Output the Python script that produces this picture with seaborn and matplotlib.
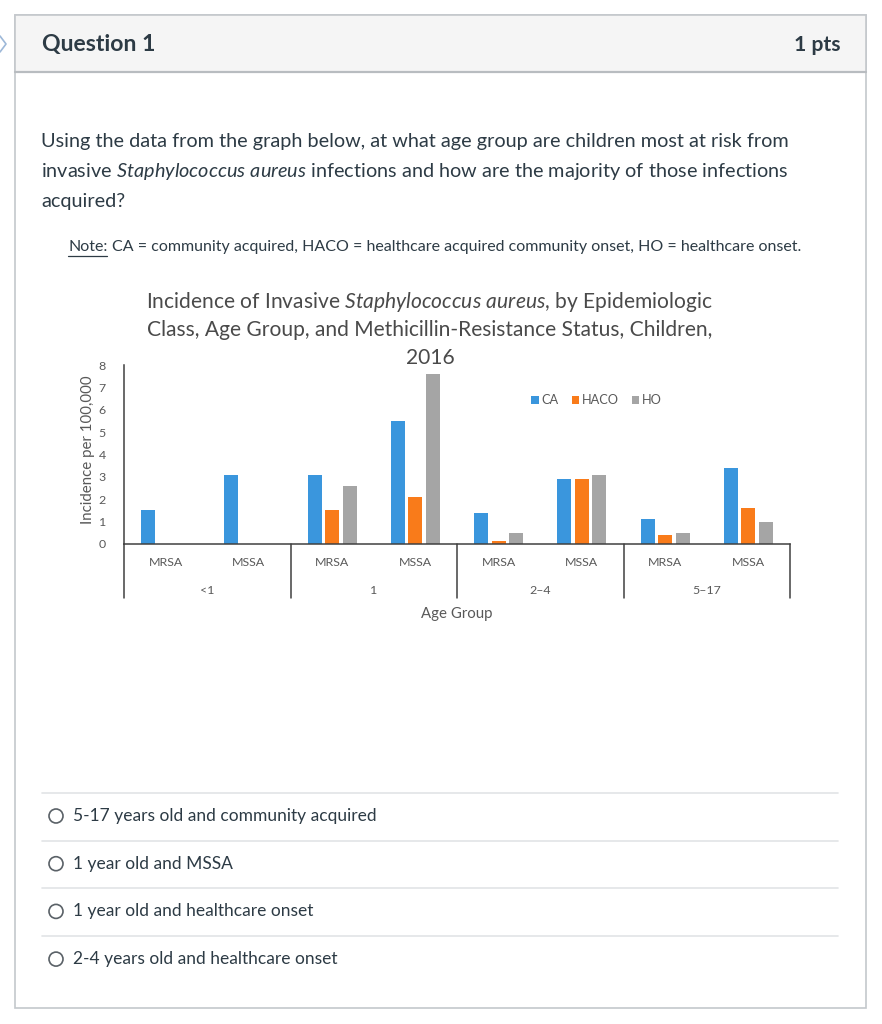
import matplotlib
matplotlib.use("Agg")
import numpy as np
import pandas as pd
import seaborn as sns
import matplotlib.pyplot as plt
import matplotlib.transforms as mtransforms
from matplotlib.patches import Rectangle, Ellipse
from matplotlib.lines import Line2D

# ---------------- data ----------------
age_groups = ["<1", "1", "2–4", "5–17"]
resistance = ["MRSA", "MSSA"]
classes = ["CA", "HACO", "HO"]
# order: <1 MRSA, <1 MSSA, 1 MRSA, 1 MSSA, 2-4 MRSA, 2-4 MSSA, 5-17 MRSA, 5-17 MSSA
ca_values = [1.5, 3.1, 3.1, 5.5, 1.4, 2.9, 1.1, 3.4]
haco_values = [0.0, 0.0, 1.5, 2.1, 0.15, 2.9, 0.4, 1.6]
ho_values = [0.0, 0.0, 2.6, 7.6, 0.5, 3.1, 0.5, 1.0]
y_ticks = [0, 1, 2, 3, 4, 5, 6, 7, 8]
class_colors = ["#3A96DD", "#F97B1A", "#A5A5A5"]

question_lines = [
    "Using the data from the graph below, at what age group are children most at risk from",
    r"invasive $\it{Staphylococcus\ aureus}$ infections and how are the majority of those infections",
    "acquired?",
]
note_label = "Note:"
note_text = "CA = community acquired, HACO = healthcare acquired community onset, HO = healthcare onset."
title_lines = [
    r"Incidence of Invasive $\it{Staphylococcus\ aureus}$, by Epidemiologic",
    "Class, Age Group, and Methicillin-Resistance Status, Children,",
    "2016",
]
answers = [
    "5-17 years old and community acquired",
    "1 year old and MSSA",
    "1 year old and healthcare onset",
    "2-4 years old and healthcare onset",
]

# ---------------- style ----------------
sns.set_theme(style="white")
plt.rcParams["font.family"] = ["Lato", "DejaVu Sans"]
plt.rcParams["mathtext.fontset"] = "custom"
plt.rcParams["mathtext.rm"] = "Lato"
plt.rcParams["mathtext.it"] = "Lato:italic"
plt.rcParams["mathtext.bf"] = "Lato:bold"

W, H = 882, 1024
fig = plt.figure(figsize=(W / 100, H / 100), dpi=100)
fig.patch.set_facecolor("white")


def fx(x):
    return x / W


def fy(y):
    return 1 - y / H


# ---------------- page card ----------------
fig.patches.append(Rectangle((fx(15), fy(1008)), (866 - 15) / W, (1008 - 15) / H,
                             transform=fig.transFigure, facecolor="white",
                             edgecolor="#C4C8CC", linewidth=1.2, zorder=-2))
fig.patches.append(Rectangle((fx(15), fy(72)), (866 - 15) / W, (72 - 15) / H,
                             transform=fig.transFigure, facecolor="#F5F5F5",
                             edgecolor="#C4C8CC", linewidth=1.2, zorder=-1.5))
fig.lines.append(Line2D([fx(15), fx(866)], [fy(72), fy(72)], transform=fig.transFigure,
                        color="#B8BCC0", linewidth=1.6, zorder=-1))
# small chevron at left edge
fig.lines.append(Line2D([fx(0), fx(6), fx(0)], [fy(36), fy(44), fy(52)],
                        transform=fig.transFigure, color="#9DB8D8", linewidth=1.2))

fig.text(fx(42), fy(45), "Question 1", fontsize=16.6, fontweight="bold",
         color="#2D3B45", ha="left", va="center")
fig.text(fx(840), fy(45), "1 pts", fontsize=15.2, fontweight="bold",
         color="#2D3B45", ha="right", va="center")

for i, line in enumerate(question_lines):
    fig.text(fx(41), fy(141 + 30 * i), line, fontsize=14.3, color="#2D3B45",
             ha="left", va="center")

renderer = fig.canvas.get_renderer()
note_t = fig.text(fx(68), fy(247), note_label, fontsize=11.5, color="#2D3B45",
                  ha="left", va="center")
nb = note_t.get_window_extent(renderer)
fig.lines.append(Line2D([nb.x0 / W, nb.x1 / W], [fy(256), fy(256)],
                        transform=fig.transFigure, color="#2D3B45", linewidth=0.9))
fig.text(nb.x1 / W + fx(5), fy(247), note_text, fontsize=11.5, color="#2D3B45",
         ha="left", va="center")

# answers
for yline in [793, 841, 888, 936]:
    fig.lines.append(Line2D([fx(42), fx(838)], [fy(yline), fy(yline)],
                            transform=fig.transFigure, color="#E2E4E6", linewidth=1.2))
for i, a in enumerate(answers):
    yc = 816 + 47.7 * i
    fig.patches.append(Ellipse((fx(56), fy(yc)), 14 / W, 14 / H, transform=fig.transFigure,
                               facecolor="white", edgecolor="#5A6167", linewidth=1.2))
    fig.text(fx(73), fy(yc), a, fontsize=12.5, color="#2D3B45", ha="left", va="center")

# ---------------- chart ----------------
for i, line in enumerate(title_lines):
    fig.text(fx(430), fy(302 + 28 * i), line, fontsize=15.1, color="#4A4A4A",
             ha="center", va="center")

cats = [f"{a} {r}" for a in age_groups for r in resistance]
df = pd.DataFrame({
    "cat": cats * 3,
    "cls": [c for c in classes for _ in cats],
    "value": ca_values + haco_values + ho_values,
})

ax = fig.add_axes([fx(124), fy(544), (790 - 124) / W, (544 - 365) / H])
sns.barplot(data=df, x="cat", y="value", hue="cls", order=cats, hue_order=classes,
            palette=class_colors, saturation=1, width=0.63, gap=0.2,
            linewidth=0, ax=ax, errorbar=None)
ax.set_xlim(-0.5, len(cats) - 0.5)
ax.set_ylim(0, 8)
ax.set_yticks(y_ticks)
ax.set_yticklabels([str(t) for t in y_ticks])
ax.set_xticks(range(len(cats)))
ax.set_xticklabels([r for a in age_groups for r in resistance])
ax.tick_params(axis="x", length=0, pad=9.5, labelsize=8.9, labelcolor="#595959")
ax.tick_params(axis="y", length=0, pad=13, labelsize=8.9, labelcolor="#595959")
for s in ["top", "right"]:
    ax.spines[s].set_visible(False)
ax.spines["left"].set_color("#404040")
ax.spines["bottom"].set_color("#404040")
ax.spines["left"].set_linewidth(1.1)
ax.spines["bottom"].set_linewidth(1.1)
ax.set_facecolor("none")

ax.set_ylabel("Incidence per 100,000", fontsize=10.8, color="#595959")
ax.yaxis.set_label_coords(-0.043, 0.525)
ax.set_xlabel("Age Group", fontsize=10.8, color="#595959")
ax.xaxis.set_label_coords(0.5, -0.35)

# group separators and labels
ybot = -(598 - 544) / 179
for xf in [0, 0.25, 0.5, 0.75, 1.0]:
    ax.add_line(Line2D([xf, xf], [0, ybot], transform=ax.transAxes, color="#404040",
                       linewidth=1.1, clip_on=False))
trans = mtransforms.blended_transform_factory(ax.transData, ax.transAxes)
for i, g in enumerate(age_groups):
    ax.text(2 * i + 0.5, -(591 - 544) / 179, g, transform=trans, ha="center",
            va="center", fontsize=8.9, color="#595959")

leg = ax.legend(loc="center left", bbox_to_anchor=(0.604, 0.804), ncol=3,
                frameon=False, fontsize=9.2, handlelength=0.6, handleheight=0.6,
                handletextpad=0.2, columnspacing=1.0, borderaxespad=0, title=None)
for t in leg.get_texts():
    t.set_color("#595959")

fig.savefig("out.png", dpi=100)
